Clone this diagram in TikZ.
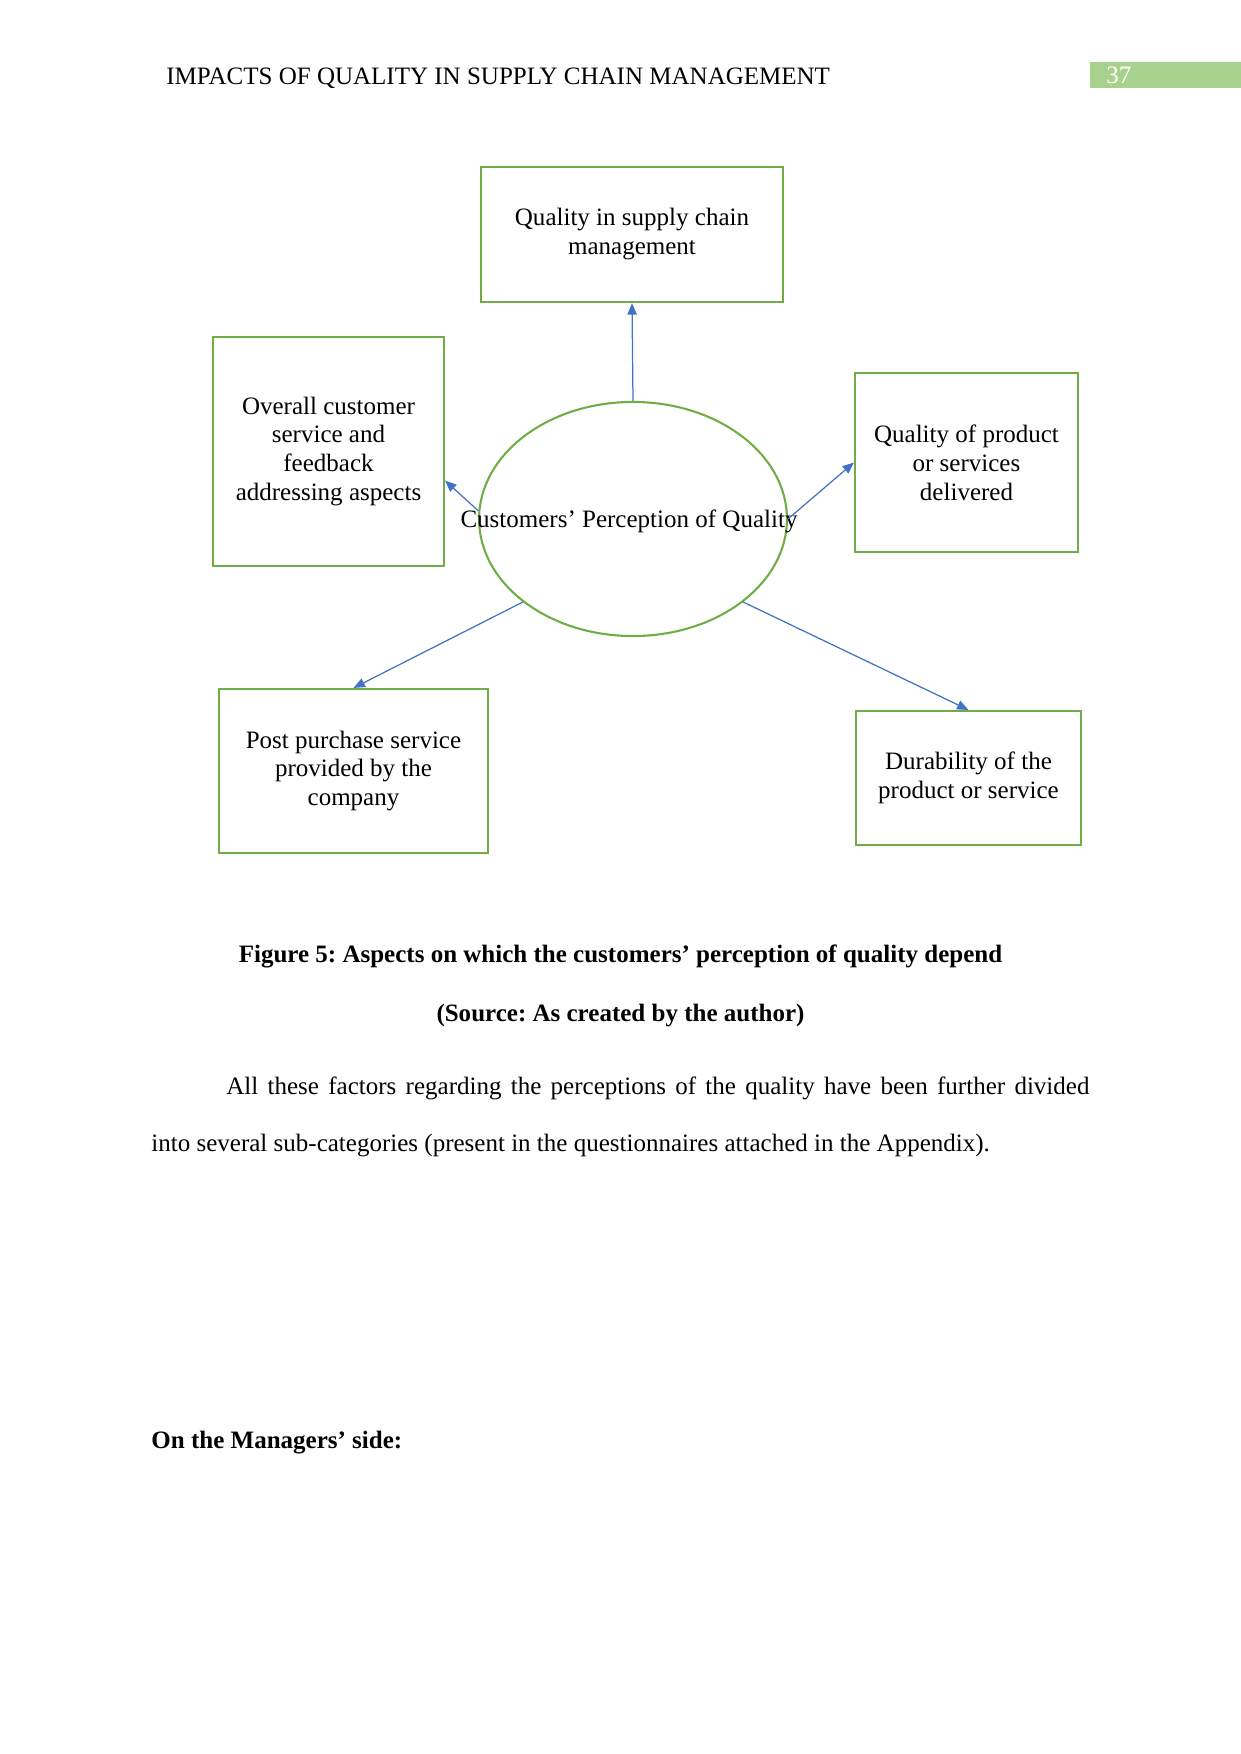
\documentclass[12pt,tikz,border=0pt]{standalone}
\usepackage{fontspec}
\setmainfont{Liberation Serif}
\usepackage{xcolor}
\usetikzlibrary{arrows.meta,shapes.geometric}
\definecolor{boxgreen}{HTML}{70AD47}
\definecolor{arrowblue}{HTML}{4472C4}
\definecolor{pagegreen}{HTML}{A9D18E}
\frenchspacing

\begin{document}
\begin{tikzpicture}[x=0.4797pt,y=-0.4797pt,
  aspect/.style={draw=boxgreen, line width=1pt, align=center, inner sep=0pt, font=\fontsize{12}{13.9}\selectfont},
  link/.style={draw=arrowblue, line width=0.6pt, -{Triangle[length=5.5pt,width=4.5pt]}}]

  \useasboundingbox (0,0) rectangle (1241,1754);

  % Running head and page number
  \node[anchor=base west, inner sep=0pt] (head) at (166,85) {IMPACTS OF QUALITY IN SUPPLY CHAIN MANAGEMENT};
  \fill[pagegreen] (1090,62) rectangle (1241,88);
  \node[anchor=base west, inner sep=0pt, white] (pageno) at (1106,84) {37};

  % Centre - customers' perception
  \node[draw=boxgreen, line width=1pt, ellipse, minimum width=147.7pt, minimum height=112.3pt, inner sep=0pt] (cpq) at (633,519) {};
  \node[inner sep=0pt] (cpqlabel) at (629,521) {Customers’ Perception of Quality};

  % Aspects round it
  \node[aspect, minimum width=144.9pt, minimum height=64.8pt] (scm) at (632,234.5) {Quality in supply chain\\management};
  \node[aspect, minimum width=110.8pt, minimum height=109.9pt] (service) at (328.5,451.5) {Overall customer\\service and\\feedback\\addressing aspects};
  \node[aspect, minimum width=107pt, minimum height=85.9pt] (product) at (966.5,462.5) {Quality of product\\or services\\delivered};
  \node[aspect, minimum width=129pt, minimum height=78.7pt] (postsale) at (353.5,771) {Post purchase service\\provided by the\\company};
  \node[aspect, minimum width=107.9pt, minimum height=64.3pt] (durability) at (968.5,778) {Durability of the\\product or service};

  % Arrows out of the ellipse
  \draw[link] (cpq.north) -- (scm.south);
  \draw[link] (cpq.177) -- (service.-14);
  \draw[link] (cpq.east) -- (product.west);
  \draw[link] (cpq.217) -- (postsale.north);
  \draw[link] (cpq.-37) -- (durability.north);

  % Caption and text below
  \node[anchor=base, font=\bfseries] (caption) at (620.5,962) {Figure 5: Aspects on which the customers’ perception of quality depend};
  \node[anchor=base, font=\bfseries] (source) at (620.5,1021) {(Source: As created by the author)};
  \node[anchor=base west, inner sep=0pt] (para1) at (226,1094) {\makebox[414pt][s]{All these factors regarding the perceptions of the quality have been further divided}};
  \node[anchor=base west, inner sep=0pt] (para2) at (151,1151) {into several sub-categories (present in the questionnaires attached in the Appendix).};
  \node[anchor=base west, inner sep=0pt, font=\bfseries] (managers) at (151,1448) {On the Managers’ side:};

\end{tikzpicture}
\end{document}
